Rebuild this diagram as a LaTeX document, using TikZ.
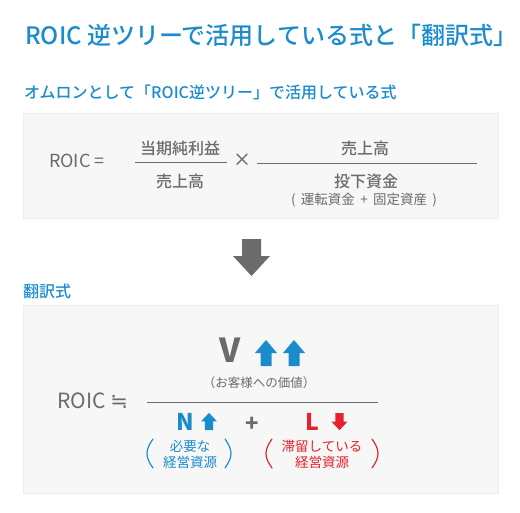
\documentclass[tikz,border=0pt]{standalone}
\usepackage{fontspec}
\setmainfont{Noto Sans CJK JP}
\newfontfamily\medfont{Noto Sans CJK JP Medium}
\newfontfamily\symfont{DejaVu Sans}
\usepackage{tikz}
\usetikzlibrary{calc}

\definecolor{roicblue}{HTML}{1A8CCD}
\definecolor{roicred}{HTML}{E5232B}
\definecolor{roicgray}{HTML}{6B6B6B}
\definecolor{panelfill}{HTML}{F7F7F7}
\definecolor{panelline}{HTML}{EDEDED}

\begin{document}
\begin{tikzpicture}[x=1pt, y=-1pt, inner sep=0pt,
    heading/.style = {anchor=west, text=roicblue, font=\medfont\fontsize{16}{16}\selectfont},
    panel/.style = {draw=panelline, fill=panelfill},
    term/.style = {text=roicgray, font=\medfont\fontsize{16}{16}\selectfont},
    note/.style = {text=roicgray, font=\fontsize{12.5}{12.5}\selectfont},
    rule/.style = {draw=roicgray, line width=1pt},
    bigletter/.style = {font=\bfseries\fontsize{#1}{#1}\selectfont},
    small/.style = {font=\fontsize{13.5}{16}\selectfont, align=center},
    paren/.style = {line width=1.2pt, line cap=round},
    fatarrow/.pic = {\fill[#1] (-5.5,0) -- (-5.5,-13) -- (-11,-13) -- (0,-26) -- (11,-13) -- (5.5,-13) -- (5.5,0) -- cycle;}
  ]

  \useasboundingbox (0,0) rectangle (520,512);

  \node[anchor=west, text=roicblue, font=\medfont\fontsize{24}{24}\selectfont] (title) at (25,35) {ROIC 逆ツリーで活用している式と「翻訳式」};

  % current formula
  \node[heading] (sub1) at (24,92) {オムロンとして「ROIC逆ツリー」で活用している式};
  \draw[panel] (23,113) rectangle (498,218);

  \node[text=roicgray, font=\fontsize{18}{18}\selectfont, anchor=west] (roic1) at (49,161) {ROIC =};
  \node[term] (profit) at (180,148) {当期純利益};
  \node[term] (sales1) at (180,181) {売上高};
  \coordinate (f1l) at (135,162);
  \coordinate (f1r) at (227,162);
  \draw[rule] (f1l) -- (f1r);
  \node[term, font=\medfont\fontsize{18}{18}\selectfont] (times) at (242,160) {×};
  \node[term] (sales2) at (365,148) {売上高};
  \node[term] (capital) at (366,181) {投下資金};
  \node[note, font=\fontsize{13.5}{13.5}\selectfont] (capnote) at (364,200) {(\, 運転資金 \,+\, 固定資産 \,)};
  \coordinate (f2l) at (257,163);
  \coordinate (f2r) at (477,163);
  \draw[rule] (f2l) -- (f2r);

  % down arrow
  \fill[roicgray] (242,239) -- (261,239) -- (261,256) -- (270,256) -- (251.5,276) -- (233,256) -- (242,256) -- cycle;

  % translated formula
  \node[heading] (sub2) at (23,291) {翻訳式};
  \draw[panel] (23,305) rectangle (498,493);

  \node[text=roicgray, font=\fontsize{21}{21}\selectfont, anchor=west] (roic2) at (57,401) {ROIC {\symfont ≒}};
  \node[text=roicgray, bigletter=33] (V) at (230.5,350) {V};
  \pic at (266,366) {fatarrow=roicblue};
  \pic at (294,366) {fatarrow=roicblue};
  \node[note] (value) at (259,383) {（お客様への価値）};
  \coordinate (f3l) at (147,402);
  \coordinate (f3r) at (378,402);
  \draw[rule] (f3l) -- (f3r);

  \node[text=roicblue, bigletter=23] (N) at (185.5,421.5) {N};
  \pic[xscale=0.73, yscale=0.66] at (209,430) {fatarrow=roicblue};
  \node[text=roicgray, bigletter=22] (plus) at (252,424) {+};
  \node[text=roicred, bigletter=23] (L) at (312.5,422) {L};
  \pic[xscale=0.73, yscale=-0.66] at (339.5,413) {fatarrow=roicred};

  \node[text=roicblue, small] (need) at (190,454.5) {必要な\\経営資源};
  \draw[paren, roicblue] (153,439) .. controls (145,450) and (145,457) .. (153,468);
  \draw[paren, roicblue] (225,439) .. controls (233,450) and (233,457) .. (225,468);

  \node[text=roicred, small] (idle) at (322,454.5) {滞留している\\経営資源};
  \draw[paren, roicred] (272,439) .. controls (264,450) and (264,457) .. (272,468);
  \draw[paren, roicred] (372,439) .. controls (380,450) and (380,457) .. (372,468);

\end{tikzpicture}
\end{document}
